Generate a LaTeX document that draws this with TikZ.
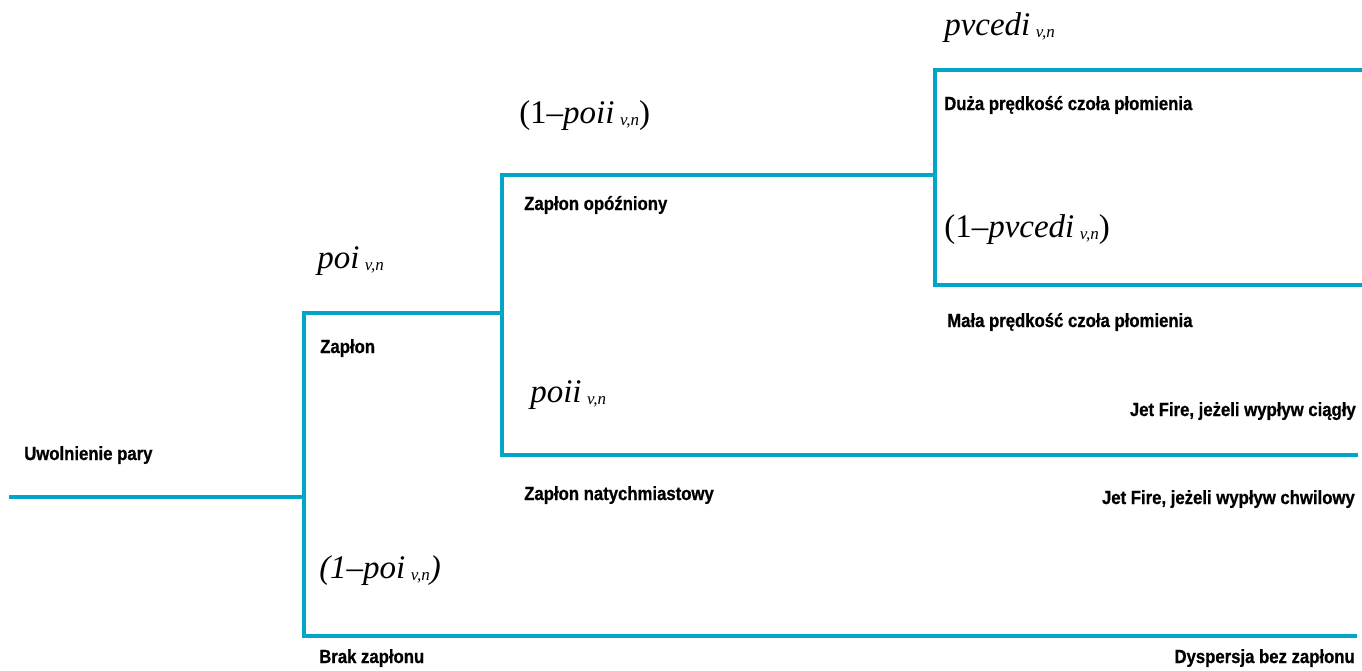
\documentclass[tikz,border=0pt]{standalone}
\usepackage{fontspec}
\setmainfont{Liberation Serif}
\newfontfamily\lblfont[FakeStretch=0.88, BoldFeatures={FakeBold=0.8}]{Liberation Sans}
\tikzset{
every picture/.style={
line width=4.5pt
}}
\usetikzlibrary{positioning}
\definecolor{treeline}{RGB}{0,165,200}
\newcommand{\vn}{\,{\fontsize{17}{17}\selectfont\raisebox{-2pt}{\textit{v,n}}}}

\begin{document}
\begin{tikzpicture}[x=1pt, y=-1pt,
lbl/.style = {font=\lblfont\bfseries\fontsize{19}{22}\selectfont, inner sep=0pt},
prob/.style = {font=\fontsize{33}{36}\selectfont, inner sep=0pt},
branch/.style = {draw=treeline}]

  \useasboundingbox (0,0) rectangle (1362,670);

  \coordinate (start) at (9,497);
  \coordinate (ign)   at (304,497);
  \coordinate (ignY)  at (304,313);
  \coordinate (ignN)  at (304,636);
  \coordinate (ignNe) at (1357,636);
  \coordinate (del)   at (502,313);
  \coordinate (delY)  at (502,175);
  \coordinate (delN)  at (502,455);
  \coordinate (delNe) at (1358,455);
  \coordinate (fl)    at (935,175);
  \coordinate (flY)   at (935,70);
  \coordinate (flYe)  at (1364,70);
  \coordinate (flN)   at (935,285);
  \coordinate (flNe)  at (1364,285);

  \draw[branch] (start) -- (ign);
  \draw[branch] (del) -- (ignY) -- (ignN) -- (ignNe);
  \draw[branch] (fl) -- (delY) -- (delN) -- (delNe);
  \draw[branch] (flYe) -- (flY) -- (flN) -- (flNe);

  \node[lbl, anchor=base west] (release) at (22,460) {Uwolnienie pary};
  \node[lbl, anchor=base west] (ignyes)  at (318,353) {Zapłon};
  \node[lbl, anchor=base west] (ignno)   at (317,663) {Brak zapłonu};
  \node[lbl, anchor=base west] (delyes)  at (522,210) {Zapłon opóźniony};
  \node[lbl, anchor=base west] (delno)   at (522,500) {Zapłon natychmiastowy};
  \node[lbl, anchor=base west] (flyes)   at (942,110) {Duża prędkość czoła płomienia};
  \node[lbl, anchor=base west] (flno)    at (945,327) {Mała prędkość czoła płomienia};
  \node[lbl, anchor=base east] (jet1)    at (1358,416) {Jet Fire, jeżeli wypływ ciągły};
  \node[lbl, anchor=base east] (jet2)    at (1357,504) {Jet Fire, jeżeli wypływ chwilowy};
  \node[lbl, anchor=base east] (disp)    at (1357,663) {Dyspersja bez zapłonu};

  \node[prob, anchor=base west] (p1)  at (315,268) {\textit{poi}\vn};
  \node[prob, anchor=base west] (p1n) at (317,578) {\textit{(1–poi}\vn\textit{)}};
  \node[prob, anchor=base west] (p2)  at (517,123) {(1–\textit{poii}\vn)};
  \node[prob, anchor=base west] (p2n) at (528,402) {\textit{poii}\vn};
  \node[prob, anchor=base west] (p3)  at (942,35)  {\textit{pvcedi}\vn};
  \node[prob, anchor=base west] (p3n) at (942,237) {(1–\textit{pvcedi}\vn)};

\end{tikzpicture}
\end{document}
